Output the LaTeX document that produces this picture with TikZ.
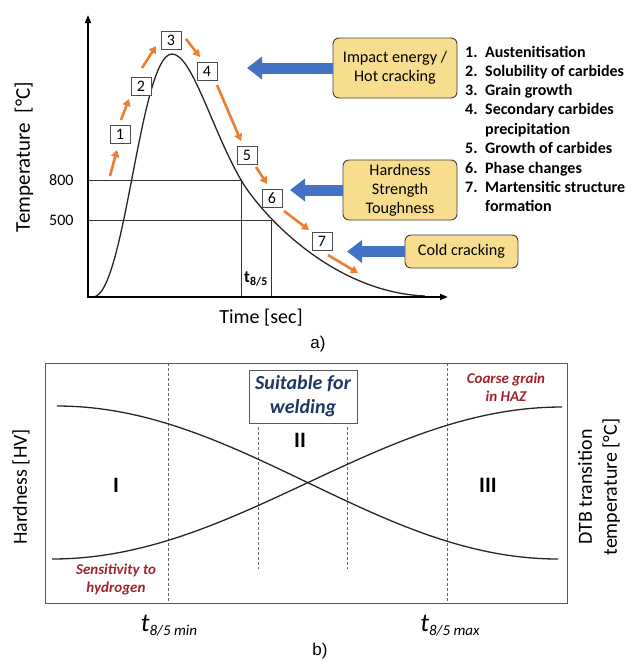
\documentclass[tikz,border=0pt]{standalone}
\usepackage{fontspec}
\setmainfont{Carlito}
\newfontfamily\arialfont{Liberation Sans}
\usetikzlibrary{arrows.meta}
\definecolor{orng}{HTML}{ED7D31}
\definecolor{blu}{HTML}{4472C4}
\definecolor{ylw}{HTML}{F8DD8E}
\definecolor{navy}{HTML}{1F3864}
\definecolor{dred}{HTML}{A3232B}
\tikzset{
  numbox/.style={draw=black!70, fill=white, line width=0.8pt, minimum width=20pt, minimum height=18pt, inner sep=0pt, font=\fontsize{16}{16}\selectfont},
  ybox/.style={draw=black!75, fill=ylw, rounded corners=6pt, line width=0.9pt, align=center, inner sep=0pt, font=\fontsize{16.2}{19}\selectfont},
  oarr/.style={orng, line width=2.6pt, -{Triangle[width=8pt,length=7pt]}},
  barr/.style={blu, line width=11pt, -{Triangle[width=22pt,length=15pt]}},
  axisln/.style={black, line width=1.8pt, -{Triangle[width=6pt,length=8pt]}},
  thinln/.style={black!80, line width=0.8pt},
  curveln/.style={black!85, line width=1.3pt},
  dashln/.style={black!60, line width=0.8pt, densely dashed},
  listtxt/.style={anchor=base west, inner sep=0pt, font=\fontsize{16}{16}\selectfont\bfseries},
  redlab/.style={dred, align=center, font=\fontsize{15}{18}\selectfont\bfseries\itshape},
  lab/.style={font=\fontsize{20}{22}\selectfont},
  roman/.style={font=\fontsize{22}{22}\selectfont\bfseries},
}
\begin{document}
\begin{tikzpicture}[x=1pt,y=-1pt]
\useasboundingbox (0,0) rectangle (627,662);
% ---------- panel a ----------
\draw[thinln] (88,180) -- (241,180) -- (241,297);
\draw[thinln] (88,220) -- (271,220) -- (271,297);
\draw[curveln] (93,297) .. controls (125,297) and (140,54) .. (172,54)
  .. controls (192,54) and (212,130) .. (241,180)
  .. controls (259,211) and (330,292) .. (425,296);
\draw[axisln] (88,298) -- (88,15);
\draw[axisln] (87,297) -- (448,297);
\node[anchor=east, font=\fontsize{16}{16}\selectfont] (l800) at (77,180) {800};
\node[anchor=east, font=\fontsize{16}{16}\selectfont] (l500) at (77,220) {500};
\node[font=\fontsize{17}{17}\selectfont\bfseries] (t85) at (256,279) {t\textsubscript{8/5}};
\node[lab, rotate=90, font=\fontsize{21}{22}\selectfont] (ylab) at (24,157) {Temperature \ [°C]};
\node[lab] (xlab) at (261,318) {Time [sec]};
\node[font=\fontsize{17}{17}\selectfont\arialfont] (capa) at (318,344) {a)};
% number boxes
\node[numbox] (n1) at (120,134) {1};
\node[numbox] (n2) at (141,86) {2};
\node[numbox] (n3) at (171,40) {3};
\node[numbox] (n4) at (207,71) {4};
\node[numbox] (n5) at (247,155) {5};
\node[numbox] (n6) at (272,198) {6};
\node[numbox] (n7) at (322,241) {7};
% orange arrows
\draw[oarr] (110,176) -- (117,150);
\draw[oarr] (121,120) -- (129,99);
\draw[oarr] (142,68) -- (156,46);
\draw[oarr] (186,39) -- (200,57);
\draw[oarr] (217,85) -- (241,141);
\draw[oarr] (256,167) -- (267,184);
\draw[oarr] (284,211) -- (309,230);
\draw[oarr] (328,255) -- (358,273);
% yellow boxes
\node[ybox, minimum width=124pt, minimum height=60pt] (imp) at (395,68) {Impact energy /\\Hot cracking};
\node[ybox, minimum width=114pt, minimum height=60pt] (hst) at (400,190) {Hardness\\Strength\\Toughness};
\node[ybox, minimum width=113pt, minimum height=33pt] (cold) at (461.5,251.5) {Cold cracking};
\coordinate (tipA) at (247,68);
\coordinate (tipB) at (290,190);
\coordinate (tipC) at (347,251.5);
\draw[barr] (imp.west) -- (tipA);
\draw[barr] (hst.west) -- (tipB);
\draw[barr] (cold.west) -- (tipC);
% list
\foreach \y/\n/\t in {52/1./Austenitisation, 71/2./Solubility of carbides, 90/3./Grain growth, 109/4./Secondary carbides, 129//precipitation, 148/5./Growth of carbides, 168/6./Phase changes, 187/7./Martensitic structure, 206//formation}{
  \node[listtxt] at (465,\y+5.5) {\n};
  \node[listtxt] at (485,\y+5.5) {\t};
}
% ---------- panel b ----------
\draw[black!65, line width=1pt] (45,363) rectangle (567,603);
\draw[dashln] (168,363) -- (168,603);
\draw[dashln] (447,363) -- (447,603);
\draw[dashln] (258,427) -- (258,569);
\draw[dashln] (347,427) -- (347,569);
\draw[curveln] plot[domain=57:558, samples=100] (\x, {482.5 - 76.5*cos((\x-57)/501*180)});
\draw[curveln] plot[domain=52:562, samples=100] (\x, {483 + 76*cos((\x-52)/510*180)});
\node[draw=black!65, fill=white, line width=1pt, minimum width=108pt, minimum height=53pt, inner sep=0pt, align=center, text=navy, font=\fontsize{20}{24}\selectfont\bfseries\itshape] (suit) at (303,396.5) {Suitable for\\welding};
\node[roman] (r1) at (116,485) {I};
\node[roman] (r2) at (300,440) {II};
\node[roman] (r3) at (488,485) {III};
\node[lab, rotate=90] (hv) at (21,487) {Hardness [HV]};
\node[lab, rotate=90, align=center, font=\fontsize{20}{25}\selectfont] (dtb) at (599,487) {DTB transition\\temperature [°C]};
\node[redlab] (sens) at (116,579) {Sensitivity to\\hydrogen};
\node[redlab] (coarse) at (506,387) {Coarse grain\\in HAZ};
\node (tmin) at (169,626) {{\fontsize{26}{26}\selectfont\itshape t}{\fontsize{15}{15}\selectfont\itshape\raisebox{-4pt}{8/5 min}}};
\node (tmax) at (450,626) {{\fontsize{26}{26}\selectfont\itshape t}{\fontsize{15}{15}\selectfont\itshape\raisebox{-4pt}{8/5 max}}};
\node[font=\fontsize{17}{17}\selectfont\arialfont] (capb) at (320,651) {b)};
\end{tikzpicture}
\end{document}
